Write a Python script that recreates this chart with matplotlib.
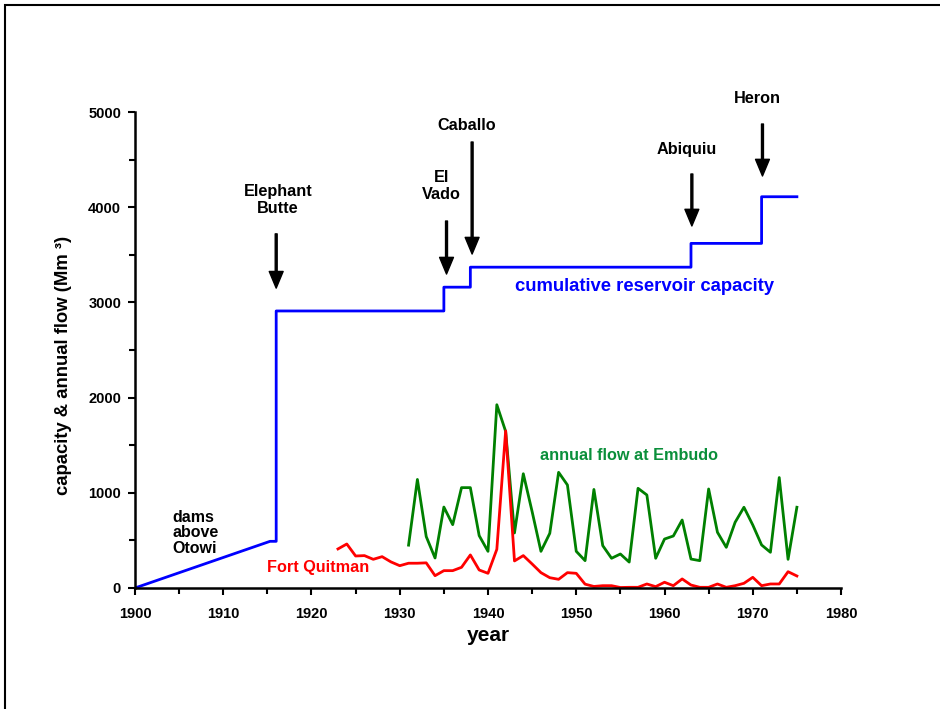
import numpy as np
import matplotlib.pyplot as plt
from matplotlib.patches import Rectangle
from matplotlib.ticker import MultipleLocator

plt.rcParams['font.family'] = ['Liberation Sans', 'DejaVu Sans']
plt.rcParams['font.weight'] = 'bold'

# cumulative reservoir capacity (Mm3), step line
cap_years = [1900, 1915.3, 1916, 1916, 1935, 1935, 1938, 1938, 1963, 1963, 1971, 1971, 1975]
cap_values = [0, 490, 490, 2910, 2910, 3160, 3160, 3370, 3370, 3620, 3620, 4110, 4110]

# annual flow at Embudo
embudo_years = list(range(1931, 1976))
embudo_flow = [450, 1140, 540, 315, 850, 665, 1054, 1054, 550, 385, 1925, 1645, 578, 1200, 802,
               385, 574, 1215, 1082, 385, 287, 1035, 445, 312, 357, 272, 1047, 977, 312, 514,
               546, 714, 304, 287, 1040, 585, 427, 690, 848, 662, 452, 375, 1160, 301, 848]

# Fort Quitman
quitman_years = list(range(1923, 1976))
quitman_flow = [410, 462, 336, 340, 301, 329, 274, 234, 260, 260, 264, 129, 182, 182, 217, 347,
                189, 154, 406, 1650, 284, 340, 252, 161, 108, 91, 161, 154, 40, 16, 24, 24,
                5, 7, 7, 42, 14, 60, 24, 95, 31, 7, 7, 42, 7, 24, 49, 112, 24, 42, 42, 171, 126]

# dam labels: name, year of arrow, arrow top, arrow tip, text position
dams = [
    ('Elephant\nButte', 1916, 3720, 3150, 1916.2, 4075),
    ('El\nVado', 1935.3, 3855, 3298, 1934.7, 4222),
    ('Caballo', 1938.2, 4685, 3508, 1937.6, 4863),
    ('Abiquiu', 1963.1, 4349, 3803, 1962.5, 4611),
    ('Heron', 1971.1, 4874, 4328, 1970.5, 5147),
]

fig = plt.figure(figsize=(9.4, 7.09), dpi=100)
ax = fig.add_axes([0.1436, 0.1707, 0.7511, 0.6713])

ax.plot(cap_years, cap_values, color='#0000ff', lw=2)
ax.plot(embudo_years, embudo_flow, color='#008000', lw=2)
ax.plot(quitman_years, quitman_flow, color='#ff0000', lw=2)

for name, yr, top, tip, tx, ty in dams:
    ax.annotate('', xy=(yr, tip), xytext=(yr, top),
                arrowprops=dict(width=1.4, headwidth=10, headlength=12, color='k'))
    ax.text(tx, ty, name, ha='center', va='center', fontsize=11.7, fontweight='bold',
            linespacing=1.2)

ax.text(1957.7, 3172, 'cumulative reservoir capacity', color='#0000ff', fontsize=13.3,
        fontweight='bold', ha='center', va='center')
ax.text(1956, 1387, 'annual flow at Embudo', color='#0a8f3a', fontsize=11.7,
        fontweight='bold', ha='center', va='center')
ax.text(1920.7, 220, 'Fort Quitman', color='#ff0000', fontsize=11.7,
        fontweight='bold', ha='center', va='center')
ax.text(1904.2, 578, 'dams\nabove\nOtowi', color='k', fontsize=11.5,
        fontweight='bold', ha='left', va='center', linespacing=1.05)

ax.set_xlim(1900, 1980)
ax.set_ylim(0, 5000)
ax.xaxis.set_major_locator(MultipleLocator(10))
ax.xaxis.set_minor_locator(MultipleLocator(5))
ax.yaxis.set_major_locator(MultipleLocator(1000))
ax.yaxis.set_minor_locator(MultipleLocator(500))
ax.tick_params(which='both', direction='out', width=1.5)
ax.tick_params(which='major', length=5)
ax.tick_params(which='minor', length=4)
ax.tick_params(axis='x', which='major', pad=9, labelsize=10.5)
ax.tick_params(axis='y', which='major', pad=5, labelsize=10.5)
for lab in ax.get_xticklabels() + ax.get_yticklabels():
    lab.set_fontweight('bold')

for s in ['top', 'right']:
    ax.spines[s].set_visible(False)
for s in ['left', 'bottom']:
    ax.spines[s].set_linewidth(1.8)

ax.set_xlabel('year', fontsize=15, fontweight='bold', labelpad=3)
ax.set_ylabel('capacity & annual flow (Mm \u00b3)', fontsize=13.3, fontweight='bold')
ax.yaxis.set_label_coords(-0.089, 0.468)

fig.patches.append(Rectangle((5 / 940, -0.1), 1.0, (704 / 709) + 0.1, transform=fig.transFigure,
                             fill=False, edgecolor='k', lw=1.5, clip_on=False))

fig.savefig('out.png', dpi=100)
